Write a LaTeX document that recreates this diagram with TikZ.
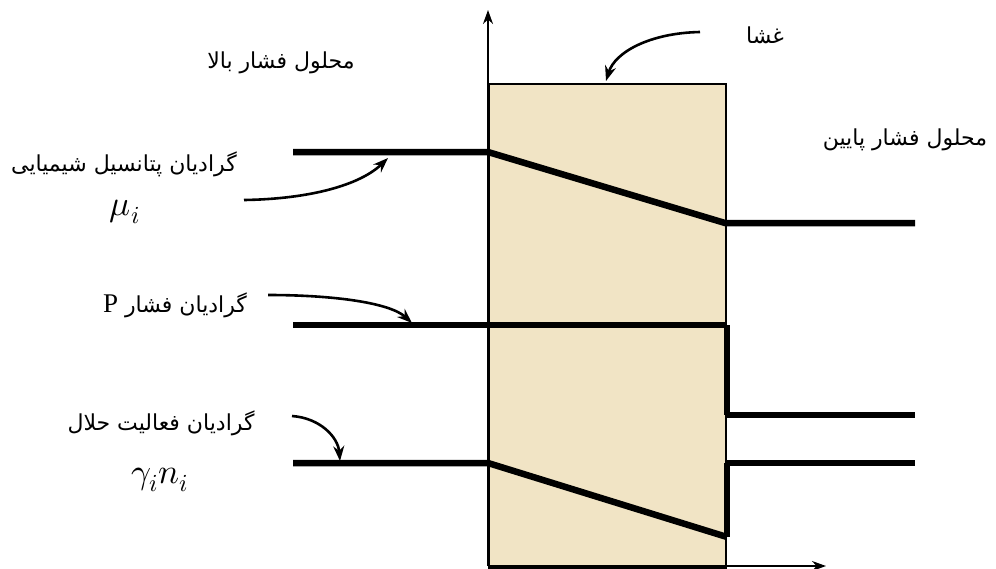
\documentclass[tikz,border=0pt]{standalone}
\usepackage{fontspec}
\usepackage{unicode-math}
\setmathfont{Latin Modern Math}
\usetikzlibrary{arrows.meta}
\TeXXeTstate=1
\newfontfamily\arabicfont[Script=Arabic]{DejaVu Sans}
\newfontfamily\serifP{Liberation Serif}
\definecolor{membr}{RGB}{241,228,197}
\tikzset{
  curve/.style={line width=2.6pt,-{Stealth[length=15pt,width=11pt]}},
  thick line/.style={line width=6.5pt},
  label fa/.style={font=\arabicfont\fontsize{22pt}{26pt}\selectfont,inner sep=0pt},
  label math/.style={font=\fontsize{35pt}{40pt}\selectfont,inner sep=0pt}
}
\begin{document}
\begin{tikzpicture}[x=1pt,y=-1pt]
\useasboundingbox (0,0) rectangle (996,568);
% membrane
\node[draw=black,line width=1.6pt,fill=membr,minimum width=237pt,minimum height=484pt,anchor=north west,inner sep=0pt] (mem) at (488,83) {};
% axes
\coordinate (ax0) at (488,566);
\coordinate (axtop) at (488,10);
\coordinate (axright) at (826,566);
\draw[line width=1.8pt,-{Stealth[length=14pt,width=10pt]}] (ax0) -- (axtop);
\draw[line width=1.8pt,-{Stealth[length=14pt,width=10pt]}] (ax0) -- (axright);
% chemical potential
\coordinate (m1) at (293,152);
\coordinate (m2) at (488,152);
\coordinate (m3) at (725,223);
\coordinate (m4) at (915,223);
\draw[thick line] (m1) -- (m2) -- (m3) -- (m4);
% pressure
\coordinate (p1) at (293,325);
\coordinate (p2) at (727,325);
\coordinate (p3) at (727,415);
\coordinate (p4) at (915,415);
\draw[thick line] (p1) -- (p2);
\draw[thick line] (p2) -- (p3);
\draw[thick line] (p3) -- (p4);
% activity
\coordinate (g1) at (293,463);
\coordinate (g2) at (488,463);
\coordinate (g3) at (727,537);
\coordinate (g4) at (727,463);
\coordinate (g5) at (915,463);
\draw[thick line] (g1) -- (g2) -- (g3);
\draw[thick line] (g3) -- (g4);
\draw[thick line] (g4) -- (g5);
% labels
\node[label fa] (high) at (281,63) {\beginR محلول فشار بالا\endR};
\node[label fa] (low) at (905,140) {\beginR محلول فشار پایین\endR};
\node[label fa] (ghesha) at (765,35) {\beginR غشا\endR};
\node[label fa] (lchem) at (124,164) {\beginR گرادیان پتانسیل شیمیایی\endR};
\node[label math] (mu) at (125,212) {$\mu_i$};
\node[label fa] (lpres) at (175,305) {\beginR گرادیان فشار {\serifP\fontsize{27pt}{30pt}\selectfont P}\endR};
\node[label fa] (lact) at (161,423) {\beginR گرادیان فعالیت حلال\endR};
\node[label math] (gam) at (160,480) {$\gamma_i n_i$};
% pointer arrows
\coordinate (a1s) at (700,32);
\coordinate (a1e) at (606,81);
\draw[curve] (a1s) .. controls (650,33) and (615,52) .. (a1e);
\coordinate (a2s) at (244,200);
\coordinate (a2e) at (388,158);
\draw[curve] (a2s) .. controls (310,199) and (360,185) .. (a2e);
\coordinate (a3s) at (268,295);
\coordinate (a3e) at (412,323);
\draw[curve] (a3s) .. controls (335,295) and (390,303) .. (a3e);
\coordinate (a4s) at (292,416);
\coordinate (a4e) at (340,461);
\draw[curve] (a4s) .. controls (320,418) and (338,437) .. (a4e);
\end{tikzpicture}
\end{document}
